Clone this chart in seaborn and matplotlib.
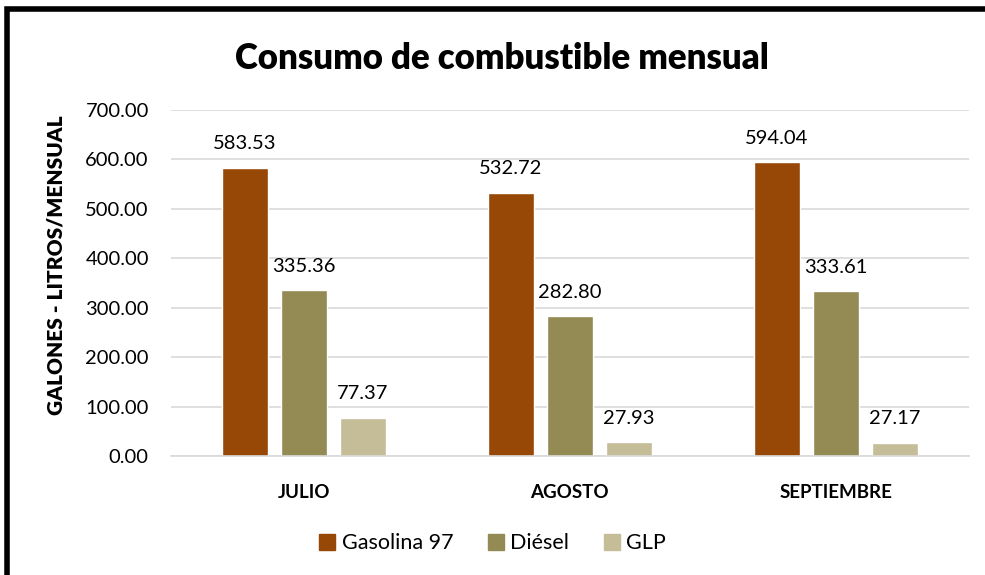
import matplotlib
matplotlib.use("Agg")
import matplotlib.pyplot as plt
import matplotlib.patches as mpatches
import pandas as pd
import seaborn as sns

# ---------------------------------------------------
# Data
# ---------------------------------------------------
months = ["JULIO", "AGOSTO", "SEPTIEMBRE"]
fuels = ["Gasolina 97", "Diésel", "GLP"]
gasolina = [583.53, 532.72, 594.04]
diesel = [335.36, 282.80, 333.61]
glp = [77.37, 27.93, 27.17]
colors = ["#974706", "#948A54", "#C4BD97"]

df = pd.DataFrame({
    "mes": months * 3,
    "combustible": [f for f in fuels for _ in months],
    "valor": gasolina + diesel + glp,
})

sns.set_theme(style="white")
plt.rcParams["font.family"] = ["Lato", "DejaVu Sans"]
plt.rcParams["text.color"] = "black"
plt.rcParams["xtick.color"] = "black"
plt.rcParams["ytick.color"] = "black"

fig = plt.figure(figsize=(9.85, 5.75), dpi=100)
ax = fig.add_axes([0.1736, 0.2070, 0.8100, 0.6017])

sns.barplot(
    data=df,
    x="mes",
    y="valor",
    hue="combustible",
    hue_order=fuels,
    order=months,
    palette=colors,
    width=0.665,
    gap=0.22,
    saturation=1,
    legend=False,
    ax=ax,
)

# value labels
for container in ax.containers:
    ax.bar_label(
        container,
        labels=[f"{v:.2f}" for v in container.datavalues],
        padding=11,
        fontsize=14.5,
        color="black",
    )

ax.set_ylim(0, 700)
ax.set_yticks(range(0, 701, 100))
ax.set_yticklabels([f"{v:.2f}" for v in range(0, 701, 100)], fontsize=14.5)
ax.set_xlim(-0.5, 2.5)
ax.set_xlabel("")
ax.set_ylabel("")
ax.tick_params(axis="x", length=0, pad=20, colors="black")
ax.tick_params(axis="y", length=0, pad=16, colors="black")
for lbl in ax.get_xticklabels():
    lbl.set_fontweight("bold")
    lbl.set_fontsize(13.5)

ax.grid(axis="y", color="#D9D9D9", linewidth=1.2)
ax.set_axisbelow(True)
for side in ["top", "right", "left"]:
    ax.spines[side].set_visible(False)
ax.spines["bottom"].set_color("#D9D9D9")
ax.spines["bottom"].set_linewidth(1.2)

fig.text(0.51, 0.898, "Consumo de combustible mensual",
         ha="center", va="center", fontsize=25, fontweight="heavy",
         color="black")
fig.text(0.057, 0.539, "GALONES - LITROS/MENSUAL",
         ha="center", va="center", rotation=90,
         fontsize=15, fontweight="heavy", color="black")

handles = [mpatches.Patch(color=c, label=f) for c, f in zip(colors, fuels)]
leg = fig.legend(
    handles=handles,
    loc="center",
    bbox_to_anchor=(0.5, 0.055),
    ncol=3,
    frameon=False,
    fontsize=15.5,
    handlelength=0.75,
    handleheight=0.75,
    handletextpad=0.3,
    columnspacing=1.6,
)
for t in leg.get_texts():
    t.set_color("black")

# black frame (only top and left edge visible)
frame = mpatches.Rectangle(
    (0.0075, -0.05), 1.1, 1.035,
    transform=fig.transFigure, fill=False,
    edgecolor="black", linewidth=4, clip_on=False,
)
fig.patches.append(frame)

fig.savefig("out.png", dpi=100)
plt.close(fig)
